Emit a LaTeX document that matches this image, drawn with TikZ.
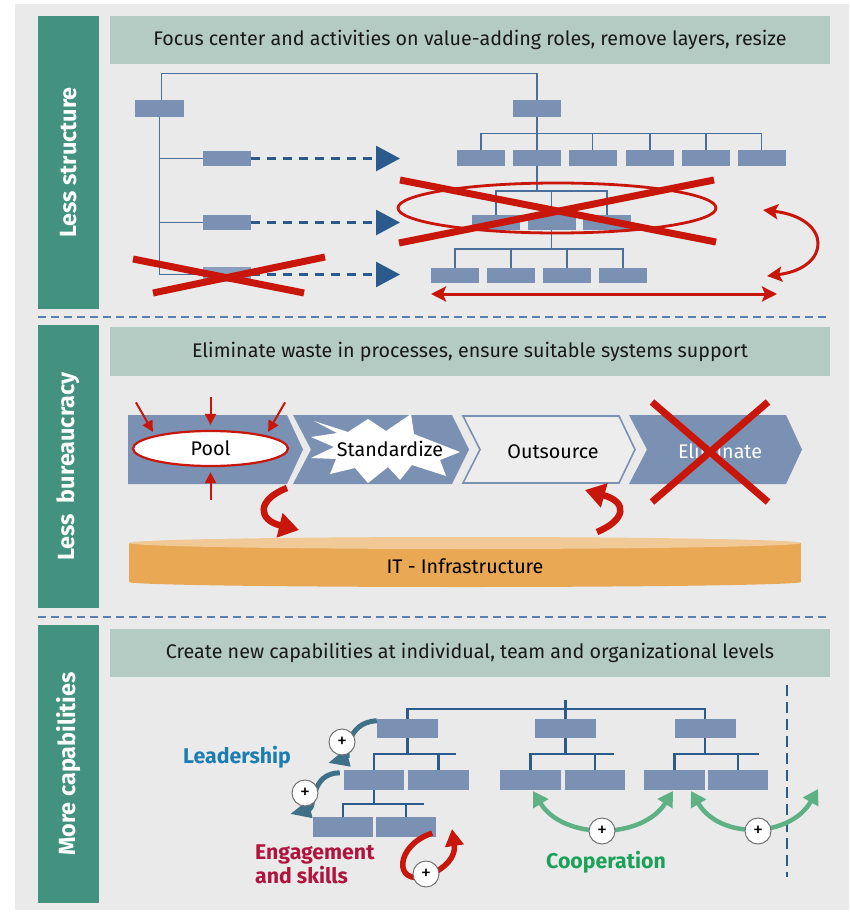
\documentclass[tikz,border=0pt]{standalone}
\usepackage{fontspec}
\setmainfont{Fira Sans}
\usetikzlibrary{arrows.meta,shapes.geometric,calc}

\definecolor{panelgray}{HTML}{EAEAEA}
\definecolor{bandteal}{HTML}{42927F}
\definecolor{headgreen}{HTML}{B4CBC3}
\definecolor{boxblue}{HTML}{7B91B4}
\definecolor{lineblue}{HTML}{2B5A8C}
\definecolor{thinblue}{HTML}{4A6F9C}
\definecolor{sepblue}{HTML}{5B7FAE}
\definecolor{xred}{HTML}{C8160A}
\definecolor{diskbody}{HTML}{E8A854}
\definecolor{disktop}{HTML}{F0C996}
\definecolor{coopgreen}{HTML}{5DB184}
\definecolor{cooptext}{HTML}{1DA15A}
\definecolor{leadarrow}{HTML}{3E7187}
\definecolor{leadtext}{HTML}{1B7DB0}
\definecolor{engtext}{HTML}{B0143C}

\newcommand\bandfont{\fontsize{23.4}{26}\selectfont\bfseries}
\newcommand\headfont{\fontsize{19.7}{23}\selectfont}
\newcommand\labfont{\fontsize{21.3}{23.5}\selectfont\bfseries}

\tikzset{
  band/.style={fill=bandteal, text=white, font=\bandfont, rotate=90,
    minimum width=#1, minimum height=61pt, inner sep=0pt},
  headbar/.style={fill=headgreen, text=black!90, font=\headfont,
    minimum width=720pt, minimum height=48pt, inner sep=0pt},
  separator/.style={draw=sepblue, line width=1.2pt, dash pattern=on 8pt off 5pt},
  orgbox/.style={fill=boxblue, minimum width=48pt, minimum height=16pt, inner sep=0pt},
  bigbox/.style={fill=boxblue, minimum width=61pt, minimum height=20pt, inner sep=0pt},
  thinline/.style={draw=thinblue, line width=1.4pt},
  orgline/.style={draw=lineblue, line width=2.2pt},
  dasharrow/.style={draw=lineblue, line width=2.6pt, dash pattern=on 9pt off 7pt,
    -{Triangle[length=24pt,width=25pt]}},
  redx/.style={draw=xred, line width=7pt},
  redtwin/.style={draw=xred, line width=3pt,
    {Stealth[length=15pt,width=15pt,inset=3pt]}-{Stealth[length=15pt,width=15pt,inset=3pt]}},
  pinarrow/.style={draw=xred, line width=2pt, -{Triangle[length=11pt,width=11pt]}},
  swoop/.style={draw=xred, line width=6.5pt, -{Triangle[length=20pt,width=24pt]}},
  chevtext/.style={font=\headfont, text=black, inner sep=0pt},
  labeltext/.style={font=\labfont},
  leadswoop/.style={draw=leadarrow, line width=5pt, -{Triangle[length=21pt,width=17pt]}},
  engswoop/.style={draw=xred, line width=5.5pt, -{Triangle[length=17pt,width=18pt]}},
  coopswoop/.style={draw=coopgreen, line width=4.5pt,
    {Triangle[length=15pt,width=17pt]}-{Triangle[length=15pt,width=17pt]}},
  plusmark/.style={circle, draw=black!55, line width=1pt, fill=white,
    minimum size=26pt, inner sep=0pt, font=\fontsize{20}{20}\selectfont},
}

\begin{document}
\begin{tikzpicture}[x=1pt,y=-1pt]
\useasboundingbox (0,0) rectangle (849,912);
\fill[white] (0,0) rectangle (849,912);
\fill[panelgray] (15,4) rectangle (849,910);

% ---------- side bands and header bars ----------
\node[band=293pt] (band1) at (68.5,162.5) {Less structure};
\node[band=283pt] (band2) at (68.5,466.5) {Less~\ bureaucracy};
\node[band=278pt] (band3) at (68.5,764) {More capabilities};

\node[headbar] (head1) at (470,40) {Focus center and activities on value-adding roles, remove layers, resize};
\node[headbar, minimum height=49pt] (head2) at (470,351.5) {Eliminate waste in processes, ensure suitable systems support};
\node[headbar] (head3) at (470,653) {Create new capabilities at individual, team and organizational levels};

\coordinate (sepA1) at (38,317);  \coordinate (sepA2) at (830,317);
\coordinate (sepB1) at (38,617);  \coordinate (sepB2) at (830,617);
\draw[separator] (sepA1) -- (sepA2);
\draw[separator] (sepB1) -- (sepB2);

% ---------- section 1: flat hierarchy ----------
\node[orgbox, minimum width=49pt, minimum height=17pt] (L0) at (159.5,108.5) {};
\node[orgbox, minimum height=15pt] (L1) at (227,158.5) {};
\node[orgbox, minimum height=15pt] (L2) at (227,222.5) {};
\node[orgbox, minimum height=15pt, opacity=0.85] (L3) at (227,274.5) {};

\node[orgbox, minimum height=17pt] (R0) at (537,108.5) {};
\node[orgbox] (A1) at (481,158) {};
\node[orgbox] (A2) at (537,158) {};
\node[orgbox] (A3) at (592.5,158) {};
\node[orgbox] (A4) at (650,158) {};
\node[orgbox] (A5) at (706,158) {};
\node[orgbox] (A6) at (761.5,158) {};
\node[orgbox, minimum height=15pt] (B1) at (496,222.5) {};
\node[orgbox, minimum height=15pt] (B2) at (551.5,222.5) {};
\node[orgbox, minimum height=15pt] (B3) at (607,222.5) {};
\node[orgbox, minimum height=15pt] (C1) at (455,275.5) {};
\node[orgbox, minimum height=15pt] (C2) at (511,275.5) {};
\node[orgbox, minimum height=15pt] (C3) at (567,275.5) {};
\node[orgbox, minimum height=15pt] (C4) at (623,275.5) {};

\draw[thinline] ([xshift=2pt]L0.north) -- ++(0,-26) -| (R0.north);
\draw[thinline] (L0.south) |- (L1.west);
\draw[thinline] (L0.south) |- (L2.west);
\draw[thinline] (L0.south) |- (L3.west);

\draw[thinline] (R0.south) -- ++(0,17);
\draw[thinline] (A1.north) -- ++(0,-16) -| (A6.north);
\foreach \n in {A2,A3,A4,A5} \draw[thinline] (\n.north) -- ++(0,-16);
\draw[thinline] (A2.south) -- ++(0,25);
\draw[thinline] (B1.north) -- ++(0,-24) -| (B3.north);
\draw[thinline] (B2.north) -- ++(0,-24);
\draw[thinline] (B2.south) -- ++(0,19);
\draw[thinline] (C1.north) -- ++(0,-19) -| (C4.north);
\draw[thinline] (C2.north) -- ++(0,-19);
\draw[thinline] (C3.north) -- ++(0,-19);

\coordinate (T1) at (400,158.5);
\coordinate (T2) at (400,222.5);
\coordinate (T3) at (400,274.5);
\draw[dasharrow] (L1.east) -- (T1);
\draw[dasharrow] (L2.east) -- (T2);
\draw[dasharrow] (L3.east) -- (T3);

\draw[redx] (133,259) -- (304,293);
\draw[redx] (153,293) -- (325,257);

\draw[draw=xred, line width=2.8pt] (557,208) ellipse [x radius=159pt, y radius=25pt];
\draw[redx] (400,180) -- (716,242);
\draw[redx] (399,243) -- (714,180);

\coordinate (flipT) at (763,210);
\coordinate (flipB) at (767,276);
\draw[redtwin] (flipT) .. controls (832,218) and (832,268) .. (flipB);
\coordinate (wideL) at (431,294);
\coordinate (wideR) at (777,294);
\draw[redtwin] (wideL) -- (wideR);

% ---------- section 2: process chain ----------
\fill[boxblue] (128,415) -- (287,415) -- (303,449.5) -- (287,484) -- (128,484) -- cycle;
\fill[boxblue] (293,415) -- (452,415) -- (469,449.5) -- (452,484) -- (293,484) -- (311,449.5) -- cycle;
\filldraw[fill=panelgray!85!white, draw=boxblue, line width=1.6pt]
  (463,416) -- (619,416) -- (635,449.5) -- (619,483) -- (463,483) -- (480,449.5) -- cycle;
\fill[boxblue] (629,415) -- (786,415) -- (802,449.5) -- (786,484) -- (629,484) -- (647,449.5) -- cycle;

\node[ellipse, draw=xred, fill=white, line width=2.2pt, minimum width=155pt,
  minimum height=35pt, chevtext] (pool) at (210.5,448.5) {Pool};
\draw[pinarrow, shorten >=4pt] ([shift={(-19pt,33pt)}]pool.north west) -- (pool.north west);
\draw[pinarrow, shorten >=4pt] ([shift={(19pt,33pt)}]pool.north east) -- (pool.north east);
\draw[pinarrow, shorten >=5pt] ([yshift=33pt]pool.north) -- (pool.north);
\draw[pinarrow, shorten >=5pt] ([yshift=-33pt]pool.south) -- (pool.south);

\fill[white] (314,421) -- (348,432) -- (368,419) -- (386,431) -- (411,414) -- (414,434)
  -- (460,452) -- (440,460) -- (446,476) -- (412,465) -- (400,480) -- (388,467)
  -- (368,483) -- (355,468) -- (330,474) -- (336,459) -- (311,458) -- (334,447)
  -- (311,437) -- (337,433) -- cycle;
\node[chevtext] (std) at (390,449) {Standardize};
\node[chevtext] (out) at (553,452) {Outsource};
\node[chevtext, text=white] (elim) at (720,451) {Eliminate};
\draw[redx] (652,402) -- (768,502);
\draw[redx] (652,502) -- (768,402);

% IT layer
\fill[diskbody] (129,543) rectangle (801,582);
\fill[diskbody] (465,582) ellipse [x radius=336pt, y radius=5pt];
\fill[disktop] (465,543) ellipse [x radius=336pt, y radius=6pt];
\node[chevtext] (infra) at (465,566) {IT - Infrastructure};

\coordinate (sw1a) at (287,488);
\coordinate (sw1b) at (299,530);
\draw[swoop] (sw1a) .. controls (256,500) and (258,520) .. (sw1b);
\coordinate (sw2a) at (597,532);
\coordinate (sw2b) at (585,490);
\draw[swoop] (sw2a) .. controls (626,520) and (628,502) .. (sw2b);

% ---------- section 3: capabilities ----------
\node[bigbox, minimum height=19pt] (P1) at (407.5,728.5) {};
\node[bigbox, minimum height=19pt] (P2) at (565.5,728.5) {};
\node[bigbox, minimum height=19pt] (P3) at (705,728.5) {};
\node[bigbox, minimum width=60pt] (Q1) at (374,780) {};
\node[bigbox] (Q2) at (438.5,780) {};
\node[bigbox] (Q3) at (530.5,780) {};
\node[bigbox, minimum width=60pt] (Q4) at (595,780) {};
\node[bigbox] (Q5) at (674.5,780) {};
\node[bigbox, minimum width=60pt] (Q6) at (738,780) {};
\node[bigbox, minimum width=60pt] (S1) at (343,827) {};
\node[bigbox, minimum width=60pt] (S2) at (406,827) {};

\draw[orgline] (P1.north) -- ++(0,-10) -| (P3.north);
\draw[orgline] (P2.north) -- ++(0,-19);
\draw[orgline] (P1.south) -- ++(0,16);
\draw[orgline] (Q1.north) -- ++(0,-16) -- ++(82,0);
\draw[orgline] (Q2.north) -- ++(0,-16);
\draw[orgline] (P2.south) -- ++(0,16);
\draw[orgline] (Q3.north) -- ++(0,-16) -- ++(83,0);
\draw[orgline] (Q4.north) -- ++(0,-16);
\draw[orgline] (P3.south) -- ++(0,16);
\draw[orgline] (Q5.north) -- ++(0,-16) -- ++(84,0);
\draw[orgline] (Q6.north) -- ++(0,-16);
\draw[orgline] (Q1.south) -- ++(0,14);
\draw[orgline] (S1.north) -- ++(0,-13) -- ++(81,0);
\draw[orgline] (S2.north) -- ++(0,-13);

\coordinate (divT) at (787,685);
\coordinate (divB) at (787,877);
\draw[draw=lineblue, line width=2pt, dash pattern=on 11pt off 6pt] (divT) -- (divB);

% leadership
\coordinate (ld1) at (328,763);
\coordinate (ld2) at (290,814);
\draw[leadswoop] ([yshift=-2pt]P1.north west) .. controls (345,722) and (347,758) .. (ld1);
\draw[leadswoop] ([xshift=-4pt,yshift=-3pt]Q1.north west) .. controls (310,773) and (315,808) .. (ld2);
\node[plusmark] (pl1) at (342,742) {+};
\node[plusmark] (pl2) at (305,793) {+};
\node[labeltext, text=leadtext] (lead) at (237,757) {Leadership};

% engagement
\coordinate (en2) at (452,829);
\draw[engswoop] ([xshift=-4pt,yshift=4pt]S2.south east) .. controls (395,845) and (393,886) .. (426,876)
  .. controls (446,869) and (456,856) .. (en2);
\node[plusmark] (pl3) at (426,874) {+};
\node[labeltext, text=engtext, align=left, anchor=north west, inner sep=0pt] (eng) at (255,845)
  {Engagement\\and skills};

% cooperation
\draw[coopswoop] (533,791) .. controls (563,840) and (642,840) .. (673,791);
\draw[coopswoop] (691,791) .. controls (720,840) and (790,838) .. (818,789);
\node[plusmark] (pl4) at (602,831) {+};
\node[plusmark] (pl5) at (758,831) {+};
\node[labeltext, text=cooptext] (coop) at (606,862) {Cooperation};

\end{tikzpicture}
\end{document}
